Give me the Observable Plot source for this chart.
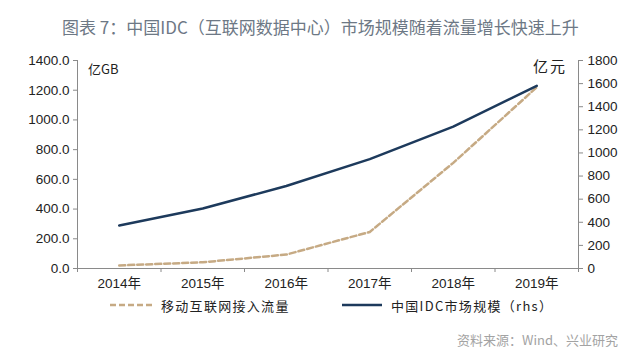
<!DOCTYPE html>
<html>
<head>
<meta charset="utf-8">
<script src="https://cdn.jsdelivr.net/npm/d3@7"></script>
<script src="https://cdn.jsdelivr.net/npm/@observablehq/plot@0.6"></script>
<style>
  html, body { margin: 0; padding: 0; background: #fff; }
  #wrap { position: relative; width: 640px; height: 358px; overflow: hidden; font-family: "Noto Sans CJK SC", "Liberation Sans", sans-serif; }
  #chart { position: absolute; left: 0; top: 0; }
  .abs { position: absolute; white-space: nowrap; line-height: 1; }
  #title { left: 62px; top: 18px; font-size: 17px; color: #6d7885; }
  #unitL { left: 88px; top: 62px; font-size: 13px; color: #222; }
  #unitR { left: 533px; top: 58px; font-size: 15px; color: #222; letter-spacing: 2px; }
  .leg { top: 297px; font-size: 13px; color: #222; letter-spacing: 1.3px; display: flex; align-items: center; }
  .leg svg { margin-right: 9px; }
  #source { right: 22px; top: 333px; font-size: 13px; color: #a3a3a3; }
</style>
</head>
<body>
<div id="wrap">
  <div id="chart"></div>
  <div class="abs" id="title">图表 7：中国IDC（互联网数据中心）市场规模随着流量增长快速上升</div>
  <div class="abs" id="unitL">亿GB</div>
  <div class="abs" id="unitR">亿元</div>
  <div class="abs leg" id="leg1" style="left:110px"><svg width="42" height="16"><line x1="0" x2="42" y1="8" y2="8" stroke="#c6aa84" stroke-width="2.5" stroke-dasharray="6,3"/></svg><span>移动互联网接入流量</span></div>
  <div class="abs leg" id="leg2" style="left:342px"><svg width="40" height="16"><line x1="0" x2="40" y1="8" y2="8" stroke="#1d3a5c" stroke-width="2.5"/></svg><span>中国IDC市场规模（rhs）</span></div>
  <div class="abs" id="source">资料来源：Wind、兴业研究</div>
</div>
<script>
// Data
const years = ["2014", "2015", "2016", "2017", "2018", "2019"];
const mobileTraffic = [20.6, 41.9, 93.6, 246.0, 711.1, 1220.0];   // 亿GB, left axis
const idcMarket = [372.2, 518.6, 714.5, 946.1, 1228.0, 1580.0];  // 亿元, right axis
const leftTicks = [0, 200, 400, 600, 800, 1000, 1200, 1400];
const rightTicks = [0, 200, 400, 600, 800, 1000, 1200, 1400, 1600, 1800];

const leftMax = 1400, rightMax = 1800;
const k = leftMax / rightMax;

const trafficData = years.map((y, i) => ({i: i + 0.5, v: mobileTraffic[i]}));
const idcData = years.map((y, i) => ({i: i + 0.5, v: idcMarket[i] * k}));

const axisColor = "#8a8a8a";
const font = "'Liberation Sans', 'Noto Sans CJK SC', sans-serif";

const plot = Plot.plot({
  width: 640,
  height: 358,
  marginTop: 60,
  marginRight: 62,
  marginBottom: 90,
  marginLeft: 77,
  style: {fontFamily: font, fontSize: "13.5px", color: "#222", background: "transparent"},
  x: {type: "linear", domain: [0, years.length]},
  y: {domain: [0, leftMax]},
  marks: [
    // left axis
    Plot.axisY({anchor: "left", ticks: leftTicks, tickFormat: d => d.toFixed(1), tickSize: 4, tickPadding: 4, stroke: axisColor, label: null, fill: "#222"}),
    Plot.ruleX([0], {stroke: axisColor}),
    // right axis
    Plot.axisY({anchor: "right", ticks: rightTicks.map(d => d * k), tickFormat: d => String(Math.round(d / k)), tickSize: 4, tickPadding: 5, stroke: axisColor, label: null, fill: "#222"}),
    Plot.ruleX([years.length], {stroke: axisColor}),
    // x axis: boundary ticks and centered labels
    Plot.axisX({ticks: d3.range(years.length + 1), tickFormat: () => "", tickSize: 4, stroke: axisColor, label: null}),
    Plot.axisX({ticks: years.map((y, i) => i + 0.5), tickFormat: d => years[Math.floor(d)] + "年", tickSize: 0, tickPadding: 10, label: null, fill: "#222"}),
    Plot.ruleY([0], {stroke: axisColor}),
    // series
    Plot.line(trafficData, {x: "i", y: "v", stroke: "#c6aa84", strokeWidth: 2.5, strokeDasharray: "6,3"}),
    Plot.line(idcData, {x: "i", y: "v", stroke: "#1d3a5c", strokeWidth: 2.5})
  ]
});
document.getElementById("chart").appendChild(plot);
</script>
</body>
</html>
